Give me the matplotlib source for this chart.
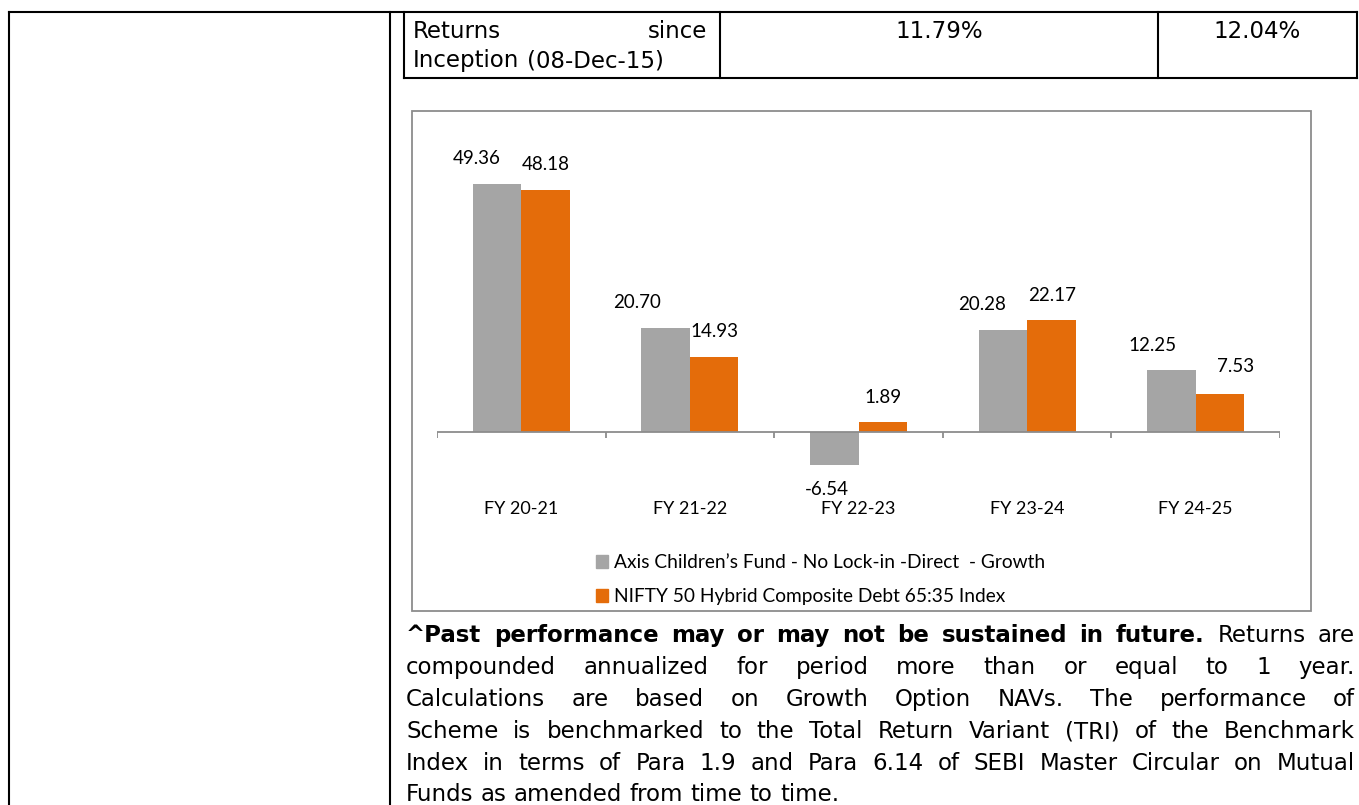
import matplotlib
matplotlib.use("Agg")
import matplotlib.pyplot as plt
import numpy as np
from matplotlib.patches import Rectangle, Patch

# data
categories = ["FY 20-21", "FY 21-22", "FY 22-23", "FY 23-24", "FY 24-25"]
fund_returns = [49.36, 20.70, -6.54, 20.28, 12.25]
bench_returns = [48.18, 14.93, 1.89, 22.17, 7.53]
fund_name = "Axis Children\u2019s Fund - No Lock-in -Direct  - Growth"
bench_name = "NIFTY 50 Hybrid Composite Debt 65:35 Index"
row_label = ["Returns since", "Inception (08-Dec-15)"]
since_inception = ["11.79%", "12.04%"]

bold_lead = "^Past performance may or may not be sustained in future."
note_lines = [
    "Returns are",
    "compounded annualized for period more than or equal to 1 year.",
    "Calculations are based on Growth Option NAVs. The performance of",
    "Scheme is benchmarked to the Total Return Variant (TRI) of the Benchmark",
    "Index in terms of Para 1.9 and Para 6.14 of SEBI Master Circular on Mutual",
    "Funds as amended from time to time.",
]

# label nudges in pixels (Excel placed them by hand)
fund_dx = [-20, -29, -7, -21, -19]
bench_dx = [0, 0, 0, 1, 16]
bench_dy = [25, 25, 25, 25, 28]

GRAY = "#A5A5A5"
ORANGE = "#E46C0A"
W, H = 1359, 805
body_font = "DejaVu Sans"
chart_font = "Lato"
body_size = 16.5
chart_size = 13.5

fig = plt.figure(figsize=(W / 100, H / 100), dpi=100)
page = fig.add_axes([0, 0, 1, 1])
page.set_xlim(0, W)
page.set_ylim(H, 0)
page.axis("off")
r = fig.canvas.get_renderer()


def line(xs, ys, color="black", lw=1.5):
    page.plot(xs, ys, color=color, lw=lw, solid_capstyle="projecting")


def justify(words, y, x0, x1, last=False):
    arts = []
    for w, b in words:
        arts.append(page.text(0, y, w, fontsize=body_size, family=body_font,
                              fontweight="bold" if b else "normal",
                              va="baseline", ha="left"))
    widths = [t.get_window_extent(r).width for t in arts]
    if last or len(arts) == 1:
        gap = body_size * 0.32 * 100 / 72
    else:
        gap = (x1 - x0 - sum(widths)) / (len(arts) - 1)
    x = x0
    for t, w in zip(arts, widths):
        t.set_x(x)
        x += w + gap


# page frame / table lines
line([9, 1357], [12, 12])
line([9, 9], [12, 805])
line([390, 390], [12, 805])
line([404, 1357], [78, 78])
for xv in [404, 720, 1158, 1357]:
    line([xv, xv], [12, 78])

justify([(w, False) for w in row_label[0].split()], 38, 413, 707)
justify([(w, False) for w in row_label[1].split()], 67, 413, 707, last=True)
for xc, s in zip([939, 1257], since_inception):
    page.text(xc, 38, s, fontsize=body_size, family=body_font, ha="center", va="baseline")

# chart frame
page.add_patch(Rectangle((412, 111), 899, 500, fill=False, edgecolor="#8C8C8C", lw=1.3))

# note paragraph
first = [(w, True) for w in bold_lead.split()] + [(w, False) for w in note_lines[0].split()]
baselines = [642, 674, 706, 738, 770, 801]
justify(first, baselines[0], 406, 1355)
for i, txt in enumerate(note_lines[1:]):
    justify([(w, False) for w in txt.split()], baselines[i + 1], 406, 1355,
            last=(i == len(note_lines) - 2))

# bar chart
ppu = 5.03
zero_y = 432
ax = fig.add_axes([437 / W, 1 - 500 / H, 843 / W, 340 / H])
ax.set_xlim(-0.5, len(categories) - 0.5)
ax.set_ylim((zero_y - 500) / ppu, (zero_y - 160) / ppu)
ax.patch.set_alpha(0)
for s in ax.spines.values():
    s.set_visible(False)

x = np.arange(len(categories))
bw = 0.288
ax.bar(x - bw / 2, fund_returns, bw, color=GRAY, label=fund_name)
ax.bar(x + bw / 2, bench_returns, bw, color=ORANGE, label=bench_name)
ax.axhline(0, color="#8C8C8C", lw=1.3)
ax.vlines(np.arange(len(categories) + 1) - 0.5, -6 / ppu, 0, color="#8C8C8C", lw=1.3)

for i, v in enumerate(fund_returns):
    sgn = 1 if v >= 0 else -1
    ax.annotate(f"{v:.2f}", (x[i] - bw / 2, v), xytext=(fund_dx[i] * 0.72, sgn * 25 * 0.72),
                textcoords="offset points", ha="center", va="center",
                fontsize=chart_size, family=chart_font)
for i, v in enumerate(bench_returns):
    sgn = 1 if v >= 0 else -1
    ax.annotate(f"{v:.2f}", (x[i] + bw / 2, v), xytext=(bench_dx[i] * 0.72, sgn * bench_dy[i] * 0.72),
                textcoords="offset points", ha="center", va="center",
                fontsize=chart_size, family=chart_font)

ax.set_yticks([])
ax.set_xticks(x, categories, fontsize=13, family=chart_font)
ax.tick_params(axis="x", length=0, pad=1)

fig.legend(handles=[Patch(color=GRAY), Patch(color=ORANGE)], labels=[fund_name, bench_name],
           loc="upper left", bbox_to_anchor=(596 / W, 1 - 554 / H), frameon=False,
           handlelength=0.65, handleheight=0.65, handletextpad=0.3, labelspacing=0.9,
           borderpad=0, borderaxespad=0, prop={"family": chart_font, "size": 13.8})

fig.savefig("out.png", dpi=100)
